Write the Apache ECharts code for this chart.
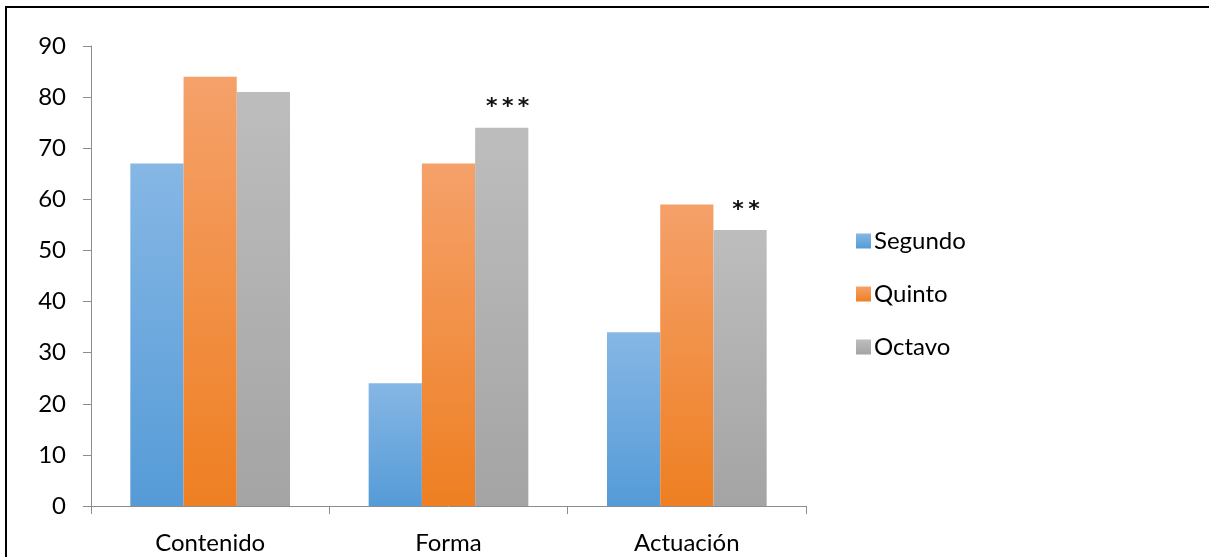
<!DOCTYPE html>
<html>
<head>
<meta charset="utf-8">
<script src="https://cdn.jsdelivr.net/npm/echarts@6/dist/echarts.min.js"></script>
<style>
  html, body { margin: 0; padding: 0; background: #fff; }
  #chart { width: 1209px; height: 557px; }
</style>
</head>
<body>
<div id="chart"></div>
<script>
// Categories and values per grade
const categories = ['Contenido', 'Forma', 'Actuación'];
const segundo = [67, 24, 34];
const quinto = [84, 67, 59];
const octavo = [81, 74, 54];
// Significance marks shown above the Octavo bars
const octavoMarks = ['', '*\u2009*\u2009*', '*\u2009*'];
const yTicks = { min: 0, max: 90, interval: 10 };

const FONT = 'Lato, "Open Sans", sans-serif';

function grad(top, bottom) {
  return new echarts.graphic.LinearGradient(0, 0, 0, 1, [
    { offset: 0, color: top },
    { offset: 1, color: bottom }
  ]);
}

const colors = {
  Segundo: grad('#86b7e5', '#559bd7'),
  Quinto: grad('#f5a16a', '#ee7f22'),
  Octavo: grad('#bdbdbd', '#a4a4a4')
};

function series(name, values, marks) {
  return {
    name: name,
    type: 'bar',
    barGap: '0%',
    barCategoryGap: '33%',
    itemStyle: { color: colors[name] },
    data: values.map((v, i) => {
      const d = { value: v };
      if (marks && marks[i]) {
        d.label = {
          show: true,
          position: 'top',
          distance: 9,
          offset: [6, 0],
          formatter: marks[i],
          fontFamily: '"DejaVu Sans", sans-serif',
          fontWeight: 'bold',
          fontSize: 22,
          color: '#111'
        };
      }
      return d;
    })
  };
}

const chart = echarts.init(document.getElementById('chart'));
chart.setOption({
  animation: false,
  backgroundColor: '#fff',
  grid: { left: 91, right: 403, top: 46, bottom: 51, containLabel: false },
  legend: {
    orient: 'vertical',
    left: 856,
    top: 229,
    padding: 0,
    itemWidth: 15,
    itemHeight: 15,
    itemGap: 29,
    icon: 'rect',
    textStyle: { fontFamily: FONT, fontSize: 24, color: '#000', padding: [0, 0, 0, -2] },
    data: ['Segundo', 'Quinto', 'Octavo']
  },
  xAxis: {
    type: 'category',
    data: categories,
    axisLine: { lineStyle: { color: '#8c8c8c', width: 1 } },
    axisTick: { show: true, length: 8, lineStyle: { color: '#8c8c8c' } },
    axisLabel: { fontFamily: FONT, fontSize: 24, color: '#000', margin: 25 }
  },
  yAxis: {
    type: 'value',
    min: yTicks.min,
    max: yTicks.max,
    interval: yTicks.interval,
    splitLine: { show: false },
    axisLine: { show: true, lineStyle: { color: '#8c8c8c', width: 1 } },
    axisTick: { show: true, length: 8, lineStyle: { color: '#8c8c8c' } },
    axisLabel: { fontFamily: FONT, fontSize: 24, color: '#000', margin: 25 }
  },
  graphic: [
    { type: 'line', shape: { x1: 6, y1: 6, x2: 6, y2: 557 }, style: { stroke: '#000', lineWidth: 2 } },
    { type: 'line', shape: { x1: 5, y1: 7, x2: 1209, y2: 7 }, style: { stroke: '#000', lineWidth: 2 } }
  ],
  series: [
    series('Segundo', segundo),
    series('Quinto', quinto),
    series('Octavo', octavo, octavoMarks)
  ]
});
</script>
</body>
</html>
